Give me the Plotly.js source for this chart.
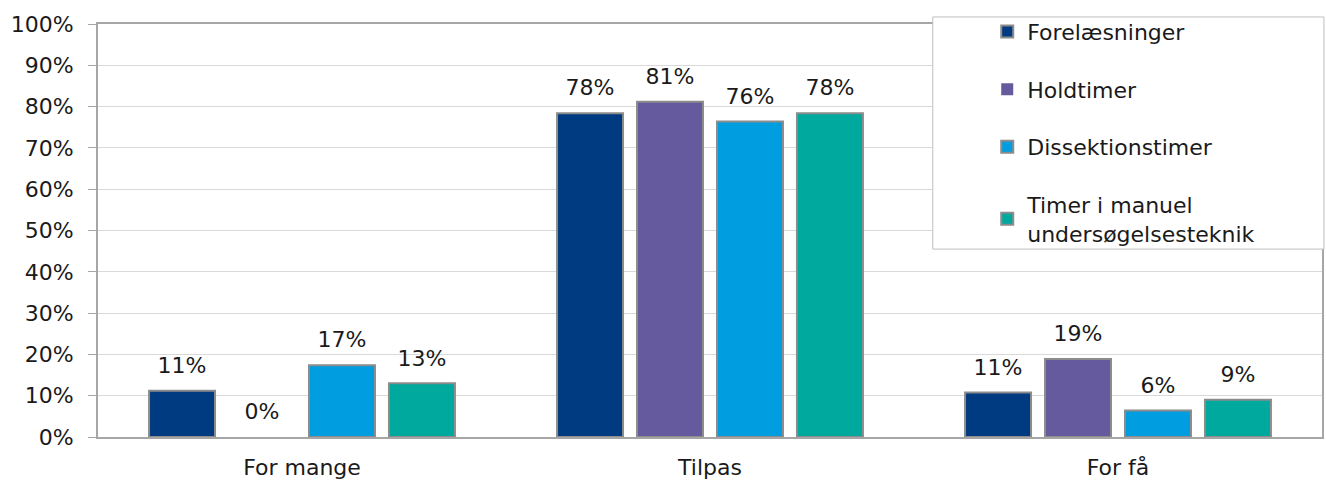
<!DOCTYPE html>
<html>
<head>
<meta charset="utf-8">
<script src="https://cdn.plot.ly/plotly-3.0.1.min.js"></script>
<style>html,body{margin:0;padding:0;background:#fff;}#chart{width:1326px;height:481px;}</style>
</head>
<body>
<div id="chart"></div>
<script>
var categories = ["For mange", "Tilpas", "For få"];
var seriesNames = ["Forelæsninger", "Holdtimer", "Dissektionstimer", "Timer i manuel<br>undersøgelsesteknik"];
var forelaesninger = [11.2, 78.4, 10.8];
var holdtimer = [0, 81.2, 18.9];
var dissektionstimer = [17.4, 76.4, 6.4];
var manuelTeknik = [13.0, 78.4, 9.0];
var yTickVals = [0, 10, 20, 30, 40, 50, 60, 70, 80, 90, 100];
var yTickText = ["0%", "10%", "20%", "30%", "40%", "50%", "60%", "70%", "80%", "90%", "100%"];

var colors = ["#003A80", "#655A9E", "#009EE0", "#00A99D"];
var allSeries = [forelaesninger, holdtimer, dissektionstimer, manuelTeknik];
var FONT = "DejaVu Sans";
var FS = 22;

var traces = [];
allSeries.forEach(function (vals, i) {
  traces.push({
    type: "bar",
    name: seriesNames[i],
    x: categories,
    y: vals,
    marker: {color: colors[i], line: {color: "#8c8c8c", width: vals.map(function (v) { return v > 0 ? 2 : 0; })}},
    legendgroup: "g" + i,
    hoverinfo: "skip"
  });
});
allSeries.forEach(function (vals, i) {
  traces.push({
    type: "scatter",
    mode: "markers+text",
    x: categories,
    y: vals,
    text: vals.map(function (v) { return Math.round(v) + "%"; }),
    textposition: "top center",
    textfont: {family: FONT, size: FS, color: "#1a1a1a"},
    marker: {size: 18, opacity: 0},
    showlegend: false,
    hoverinfo: "skip",
    cliponaxis: false
  });
});

var layout = {
  width: 1326, height: 481,
  margin: {l: 98, r: 4, t: 24, b: 44},
  paper_bgcolor: "#fff", plot_bgcolor: "#fff",
  font: {family: FONT, size: FS, color: "#1a1a1a"},
  barmode: "group", bargap: 0.216, bargroupgap: 0.175,
  scattermode: "group", scattergap: 0.216,
  showlegend: true,
  legend: {
    x: 0.7265, xanchor: "left", y: 1.032, yanchor: "top",
    bgcolor: "rgba(0,0,0,0)", borderwidth: 0,
    traceorder: "grouped", tracegroupgap: 26,
    font: {family: FONT, size: FS, color: "#1a1a1a"}
  },
  xaxis: {
    type: "category",
    showline: true, linecolor: "#a6a6a6", linewidth: 2, mirror: true,
    ticks: "", ticklabelstandoff: 10,
    tickfont: {family: FONT, size: FS, color: "#1a1a1a"},
    fixedrange: true
  },
  yaxis: {
    range: [0, 100], tickvals: yTickVals, ticktext: yTickText,
    showgrid: true, gridcolor: "#d9d9d9", gridwidth: 1, zeroline: false,
    showline: true, linecolor: "#a6a6a6", linewidth: 2, mirror: true,
    ticks: "outside", ticklen: 8, tickcolor: "#a6a6a6", tickwidth: 1,
    ticklabelstandoff: 10,
    tickfont: {family: FONT, size: FS, color: "#1a1a1a"},
    fixedrange: true
  },
  shapes: [{
    type: "rect", xref: "paper", yref: "paper", layer: "above",
    x0: 0.682, x1: 1.0016, y0: 0.455, y1: 1.017,
    fillcolor: "#ffffff", line: {color: "#bfbfbf", width: 1}
  }]
};

Plotly.newPlot("chart", traces, layout, {displayModeBar: false, staticPlot: true});
</script>
</body>
</html>
